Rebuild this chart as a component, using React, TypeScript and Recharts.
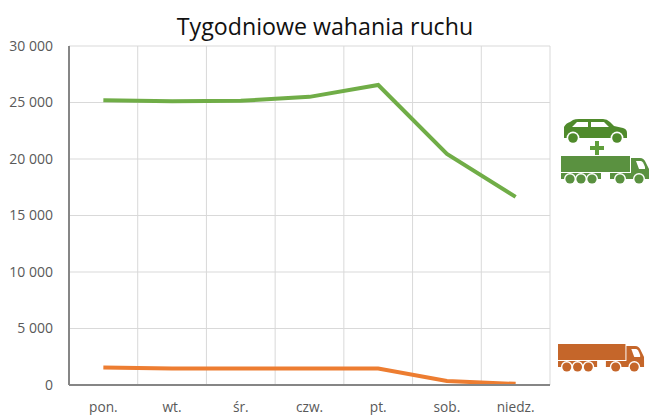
import React from "react";
import { CartesianGrid, Line, LineChart, XAxis, YAxis } from "recharts";

const days = ["pon.", "wt.", "śr.", "czw.", "pt.", "sob.", "niedz."];
const allVehicles = [25200, 25100, 25150, 25500, 26550, 20450, 16650];
const trucks = [1550, 1450, 1450, 1450, 1450, 350, 100];
const yTicks = [0, 5000, 10000, 15000, 20000, 25000, 30000];

const chartData = days.map((day, i) => ({
  day,
  all: allVehicles[i],
  trucks: trucks[i],
}));

const formatThousands = (v: number) =>
  v === 0 ? "0" : `${Math.floor(v / 1000)} ${String(v % 1000).padStart(3, "0")}`;

// grid lines sit between the categories, not on them
const boundaryLines = ({ offset }: any) =>
  days.map((_, i) => offset.left + (offset.width / days.length) * (i + 1));

const Truck = ({ color, x, y, width = 89 }: { color: string; x: number; y: number; width?: number }) => (
  <svg
    width={width}
    height={30}
    viewBox="0 0 89 30"
    preserveAspectRatio="none"
    style={{ position: "absolute", left: x, top: y }}
  >
    <rect x={0} y={1} width={69} height={16} fill={color} />
    <rect x={0} y={18} width={40} height={6} fill={color} />
    <rect x={49} y={18} width={39} height={6} fill={color} />
    <path d="M70 3 H79 Q83 3 85 8 L88 14 V24 H70 Z" fill={color} />
    <path d="M75 6 H80 Q82 6 84 12 V14 H78 Z" fill="#fff" />
    {[9, 20, 31, 59, 78].map((cx) => (
      <g key={cx}>
        <circle cx={cx} cy={24} r={6} fill="#fff" />
        <circle cx={cx} cy={24} r={4.6} fill={color} />
      </g>
    ))}
  </svg>
);

const Car = ({ color, x, y }: { color: string; x: number; y: number }) => (
  <svg
    width={66}
    height={26}
    viewBox="0 0 66 26"
    style={{ position: "absolute", left: x, top: y }}
  >
    <path
      d="M1 20 V9 Q3 5 7 4 L10 2 Q12 1 16 1 H40 Q44 1 47 4 L51 8 L60 10 Q64 11 64 15 V20 Z"
      fill={color}
    />
    <path d="M9 9 L14 4 H25 V9 Z M28 4 H41 L46 9 H28 Z" fill="#fff" />
    {[10, 54].map((cx) => (
      <g key={cx}>
        <circle cx={cx} cy={20} r={6.4} fill="#fff" />
        <circle cx={cx} cy={20} r={4.8} fill={color} />
      </g>
    ))}
  </svg>
);

export default function App() {
  const fontFamily = "'Open Sans', sans-serif";
  return (
    <div style={{ position: "absolute", left: 0, top: 0, width: 651, height: 415, fontFamily }}>
      <LineChart
        width={651}
        height={415}
        data={chartData}
        margin={{ top: 46, right: 101, bottom: 0, left: 0 }}
      >
        <text x={325} y={35} textAnchor="middle" fontSize={23.2} fill="#111" fontFamily={fontFamily}>
          Tygodniowe wahania ruchu
        </text>
        <CartesianGrid stroke="#d9d9d9" strokeWidth={1} verticalCoordinatesGenerator={boundaryLines} />
        <XAxis
          dataKey="day"
          scale="band"
          height={30}
          axisLine={{ stroke: "#868686", strokeWidth: 2 }}
          tickLine={false}
          interval={0}
          tickMargin={11}
          tick={{ fontSize: 13.7, fill: "#595959", fontFamily }}
        />
        <YAxis
          domain={[0, 30000]}
          ticks={yTicks}
          width={69}
          tickFormatter={formatThousands}
          axisLine={{ stroke: "#868686", strokeWidth: 2 }}
          tickLine={false}
          tickMargin={10}
          tick={{ fontSize: 14, fill: "#595959", fontFamily }}
        />
        <Line dataKey="all" stroke="#70ad47" strokeWidth={4} dot={false} type="linear" isAnimationActive={false} />
        <Line dataKey="trucks" stroke="#ed7d31" strokeWidth={4} dot={false} type="linear" isAnimationActive={false} />
      </LineChart>
      <Car color="#4f8a2b" x={563} y={118} />
      <svg width={14} height={14} style={{ position: "absolute", left: 590, top: 141 }}>
        <path d="M5 0 H9 V5 H14 V9 H9 V14 H5 V9 H0 V5 H5 Z" fill="#5f9e3a" />
      </svg>
      <Truck color="#5a9140" x={561} y={155} />
      <Truck color="#c5662a" x={558} y={343} width={87} />
    </div>
  );
}
